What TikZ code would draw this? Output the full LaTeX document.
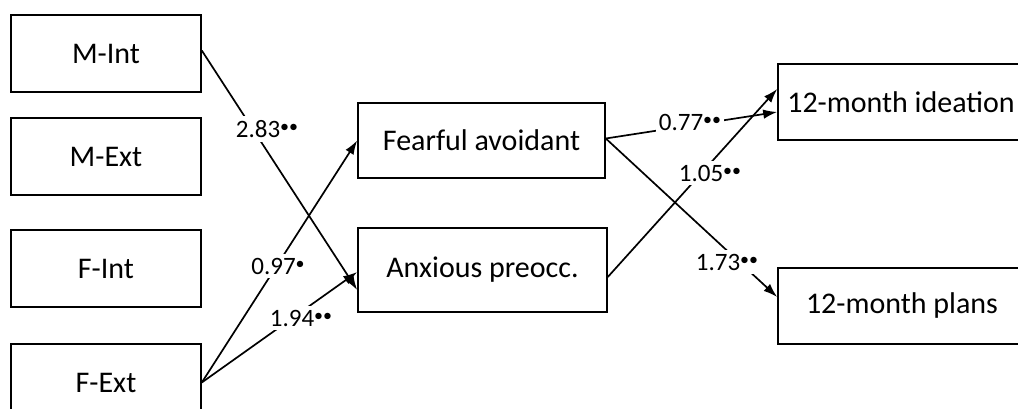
\documentclass[tikz,border=0pt]{standalone}
\usepackage{fontspec}
\setmainfont{Carlito}
\usetikzlibrary{arrows.meta}
\newcommand{\sg}[1]{\raisebox{5pt}{\fontsize{18}{18}\selectfont #1}}
\tikzset{
  box/.style={draw, line width=1.6pt, inner sep=0pt, font=\fontsize{30}{36}\selectfont},
  arr/.style={line width=1.7pt, -{Latex[length=14pt,width=9.5pt]}},
  lbl/.style={fill=white, inner xsep=3pt, inner ysep=4pt, font=\fontsize{25}{29}\selectfont}
}
\begin{document}
\begin{tikzpicture}[x=1pt,y=-1pt]
\clip (0,0) rectangle (1018,409);
\fill[white] (0,0) rectangle (1018,409);
\node[box, minimum width=190pt, minimum height=77pt] (mint) at (106,53.5) {M-Int};
\node[box, minimum width=190pt, minimum height=77pt] (mext) at (106,156.5) {M-Ext};
\node[box, minimum width=190pt, minimum height=77pt] (fint) at (106,268.5) {F-Int};
\node[box, minimum width=190pt, minimum height=77pt] (fext) at (106,382.5) {F-Ext};
\node[box, minimum width=247pt, minimum height=75pt] (fear) at (481.5,140.5) {Fearful avoidant};
\node[box, minimum width=249pt, minimum height=84pt] (anx) at (482.5,270) {Anxious preocc.};
\node[box, minimum width=246pt, minimum height=76pt] (idea) at (901,102) {12-month ideation};
\node[box, minimum width=248pt, minimum height=76pt] (plan) at (902,306) {12-month plans};

\draw[arr] ([yshift=3pt]mint.east) -- ([yshift=-20pt]anx.west);
\draw[arr] (fext.east) -- (fear.west);
\draw[arr] (fext.east) -- ([yshift=-2pt]anx.west);
\draw[arr] ([yshift=2pt]fear.east) -- ([yshift=-10pt]idea.west);
\draw[arr] ([yshift=-7pt]anx.east) -- ([yshift=13pt]idea.west);
\draw[arr] ([yshift=2pt]fear.east) -- ([yshift=9pt]plan.west);

\node[lbl] (l1) at (267,129) {2.83\sg{••}};
\node[lbl] (l2) at (278,266) {0.97\sg{•}};
\node[lbl] (l3) at (301,318) {1.94\sg{••}};
\node[lbl] (l4) at (690,122) {0.77\sg{••}};
\node[lbl] (l5) at (710,173) {1.05\sg{••}};
\node[lbl] (l6) at (727,262) {1.73\sg{••}};
\end{tikzpicture}
\end{document}
